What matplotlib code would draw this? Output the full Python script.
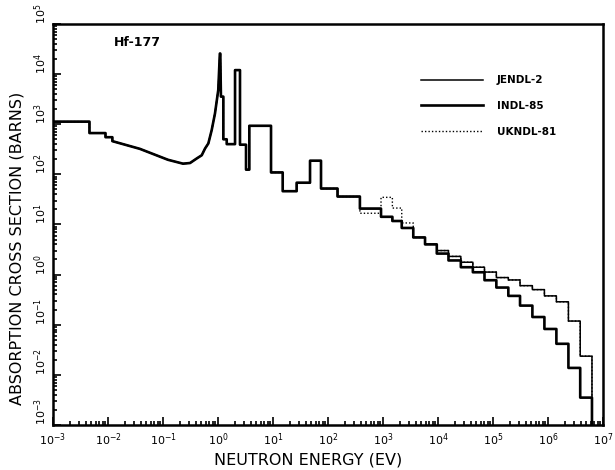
import matplotlib
matplotlib.use("Agg")
import matplotlib.pyplot as plt
from matplotlib.ticker import LogLocator, LogFormatterSciNotation, NullFormatter
from matplotlib.lines import Line2D

# Pointwise absorption cross section up to 380 eV (curve vertices, common to all libraries)
res_energy = [1e-3, 4.6e-3, 4.6e-3, 9.0e-3, 9.0e-3, 1.2e-2, 1.2e-2, 3.8e-2, 0.123,
              0.231, 0.31, 0.41, 0.506, 0.581, 0.667, 0.767, 0.881, 1.01, 1.08, 1.10,
              1.13, 1.25, 1.25, 1.44, 1.44, 2.04, 2.04, 2.51, 2.51, 3.23, 3.23, 3.71,
              3.71, 9.2, 9.2, 15.0, 15.0, 26.9, 26.9, 47.1, 47.1, 74.6, 74.6, 149, 149, 380]
res_sigma = [1125, 1125, 665, 665, 550, 550, 459, 322, 195,
             163, 168, 207, 240, 327, 413, 760, 1640, 4790, 25700, 25700,
             3550, 3550, 500, 500, 400, 400, 12000, 12000, 390, 390, 124, 124,
             930, 930, 109, 109, 46, 46, 68, 68, 187, 187, 52, 52, 36, 36]

# Group boundaries (eV) above 380 eV and group-averaged cross sections (barns)
group_bounds = [380, 920, 1480, 2190, 3550, 5810, 9500, 1.55e4, 2.6e4, 4.3e4, 7.0e4,
                1.15e5, 1.9e5, 3.1e5, 5.2e5, 8.6e5, 1.42e6, 2.35e6, 3.85e6, 6.3e6]
jendl2 = [20.7, 14.2, 11.7, 8.5, 5.5, 4.0, 3.01, 2.30, 1.76, 1.40, 1.12, 0.87, 0.78,
          0.60, 0.50, 0.375, 0.286, 0.118, 0.0235]
indl85 = [20.7, 14.2, 11.7, 8.5, 5.5, 4.0, 2.62, 1.91, 1.40, 1.11, 0.77, 0.55, 0.375,
          0.24, 0.142, 0.082, 0.0415, 0.0137, 0.0035]
ukndl81 = [16.7, 34.7, 21.2, 10.7, 5.5, 4.0, 3.01, 2.30, 1.76, 1.40, 1.12, 0.87, 0.78,
           0.60, 0.50, 0.375, 0.286, 0.118, 0.0235]

x_ticks = [1e-3, 1e-2, 1e-1, 1e0, 1e1, 1e2, 1e3, 1e4, 1e5, 1e6, 1e7]
y_ticks = [1e-3, 1e-2, 1e-1, 1e0, 1e1, 1e2, 1e3, 1e4, 1e5]


def full_curve(group_values):
    """Join the pointwise part with the group histogram and drop to zero at the top."""
    xs = list(res_energy)
    ys = list(res_sigma)
    for lo, hi, v in zip(group_bounds[:-1], group_bounds[1:], group_values):
        xs += [lo, hi]
        ys += [v, v]
    xs.append(group_bounds[-1])
    ys.append(1e-8)
    return xs, ys


plt.rcParams['font.family'] = ['DejaVu Sans']
fig = plt.figure(figsize=(6.15, 4.70), dpi=100)
ax = fig.add_axes([0.0862, 0.096, 0.8943, 0.853])

x, y = full_curve(ukndl81)
ax.plot(x, y, color='black', lw=1.0, ls=(0, (1, 1.5)), label='UKNDL-81', zorder=2)
x, y = full_curve(jendl2)
ax.plot(x, y, color='black', lw=1.1, label='JENDL-2', zorder=3)
x, y = full_curve(indl85)
ax.plot(x, y, color='black', lw=1.9, label='INDL-85', zorder=4)

ax.set_xscale('log')
ax.set_yscale('log')
ax.set_xlim(1e-3, 1e7)
ax.set_ylim(1e-3, 1e5)
ax.set_xticks(x_ticks)
ax.set_yticks(y_ticks)
ax.xaxis.set_minor_locator(LogLocator(base=10, subs=range(2, 10), numticks=100))
ax.yaxis.set_minor_locator(LogLocator(base=10, subs=range(2, 10), numticks=100))
ax.xaxis.set_minor_formatter(NullFormatter())
ax.yaxis.set_minor_formatter(NullFormatter())
ax.xaxis.set_major_formatter(LogFormatterSciNotation())
ax.yaxis.set_major_formatter(LogFormatterSciNotation())

ax.tick_params(which='both', direction='in', top=False, right=False, width=1.2,
               labelsize=8, colors='black')
ax.tick_params(which='major', length=6)
ax.tick_params(which='minor', length=3)
ax.tick_params(axis='x', pad=5)
ax.tick_params(axis='y', labelrotation=90, pad=3)
for lbl in ax.get_yticklabels():
    lbl.set_verticalalignment('bottom')
for s in ax.spines.values():
    s.set_linewidth(1.8)

ax.set_xlabel('NEUTRON ENERGY (EV)', fontsize=11.5)
ax.xaxis.set_label_coords(0.464, -0.068)
ax.set_ylabel('ABSORPTION CROSS SECTION (BARNS)', fontsize=11.5)
ax.yaxis.set_label_coords(-0.052, 0.44)

ax.text(0.11, 0.97, 'Hf-177', transform=ax.transAxes, fontsize=9, fontweight='bold',
        va='top', ha='left')

handles = [Line2D([], [], color='black', lw=1.1),
           Line2D([], [], color='black', lw=1.9),
           Line2D([], [], color='black', lw=1.0, ls=(0, (1, 1.5)))]
ax.legend(handles, ['JENDL-2', 'INDL-85', 'UKNDL-81'], loc='upper left',
          bbox_to_anchor=(0.652, 0.895), frameon=False, handlelength=6.0,
          handletextpad=1.3, labelspacing=1.5,
          prop={'size': 7.5, 'weight': 'bold'})

fig.savefig('out.png', dpi=100, facecolor='white')
